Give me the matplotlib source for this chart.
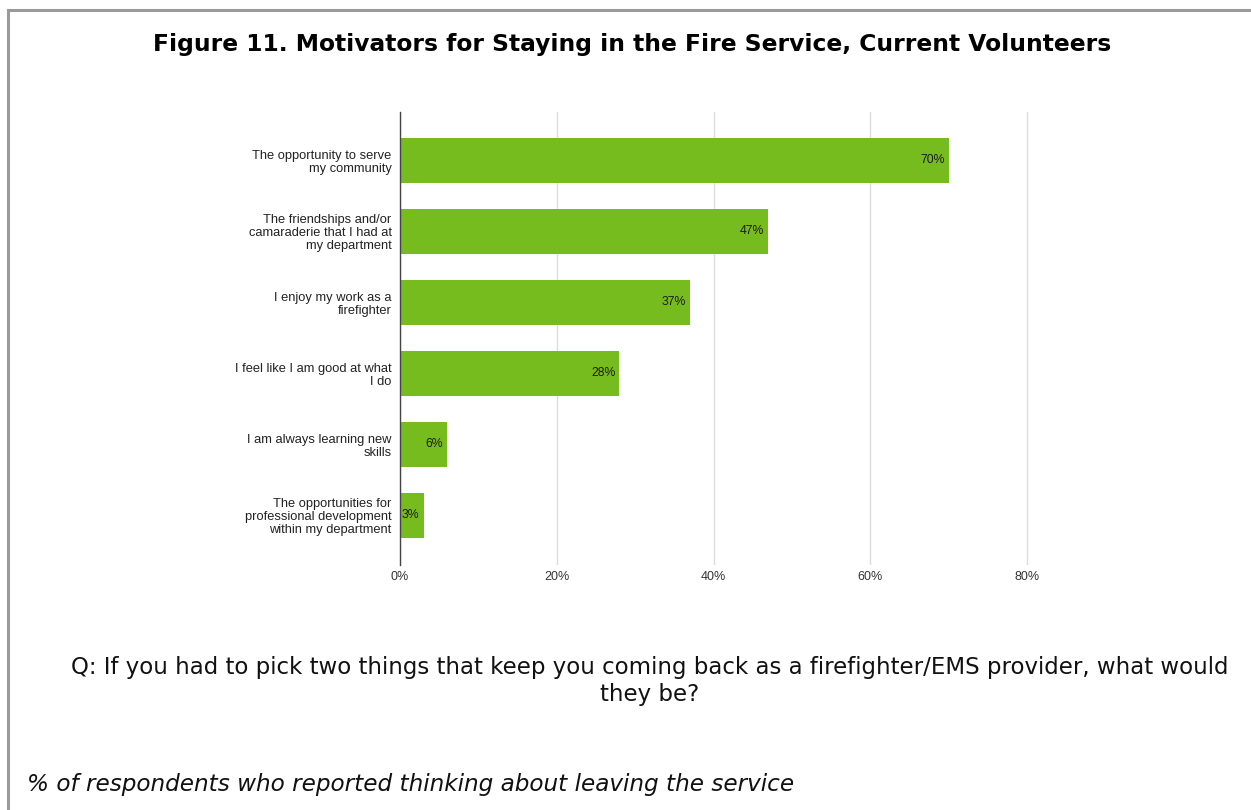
import matplotlib.pyplot as plt
import numpy as np

# motivators, top to bottom
reasons = [
    "The opportunity to serve\nmy community",
    "The friendships and/or\ncamaraderie that I had at\nmy department",
    "I enjoy my work as a\nfirefighter",
    "I feel like I am good at what\nI do",
    "I am always learning new\nskills",
    "The opportunities for\nprofessional development\nwithin my department",
]
pct = [70, 47, 37, 28, 6, 3]
xticks = [0, 20, 40, 60, 80]

green = "#77bc1f"

fig = plt.figure(figsize=(12.51, 8.10), dpi=100)
ax = fig.add_axes([400 / 1251, 1 - 565 / 810, 629.4 / 1251, 453 / 810])

ypos = np.arange(len(reasons))
ax.barh(ypos, pct, height=0.63, color=green, zorder=3)
ax.set_ylim(len(reasons) - 0.3, -0.68)
ax.set_xlim(0, 80.3)

for y, v in zip(ypos, pct):
    ax.text(v - 0.5, y, f"{v}%", ha="right", va="center", fontsize=8.8,
            family="Liberation Sans", color="#1a1a1a", zorder=4)

ax.set_yticks(ypos)
ax.set_yticklabels(reasons, fontsize=9.3, family="Liberation Sans",
                   color="#222222", linespacing=1.08)
ax.set_xticks(xticks)
ax.set_xticklabels([f"{t}%" for t in xticks], fontsize=9,
                   family="Liberation Sans", color="#333333")
ax.tick_params(axis="both", length=0)
ax.tick_params(axis="y", pad=6)
ax.tick_params(axis="x", pad=4.5)
ax.grid(axis="x", color="#dddddd", linewidth=1, zorder=0)
for s in ["top", "right", "bottom"]:
    ax.spines[s].set_visible(False)
ax.spines["left"].set_color("#444444")
ax.spines["left"].set_linewidth(1)
ax.spines["left"].set_zorder(5)

fig.text(632 / 1251, 1 - 45 / 810,
         "Figure 11. Motivators for Staying in the Fire Service, Current Volunteers",
         ha="center", va="center", fontsize=16.8, fontweight="bold",
         family="DejaVu Sans")
fig.text(650 / 1251, 1 - 681 / 810,
         "Q: If you had to pick two things that keep you coming back as a firefighter/EMS provider, what would\nthey be?",
         ha="center", va="center", fontsize=16.5, family="DejaVu Sans",
         linespacing=1.27, color="#111111")
fig.text(27 / 1251, 1 - 785 / 810,
         "% of respondents who reported thinking about leaving the service",
         ha="left", va="center", fontsize=16.7, style="italic",
         family="DejaVu Sans", color="#111111")

# frame lines on the left and top
fig.add_artist(plt.Line2D([8 / 1251, 8 / 1251], [0, 1 - 10 / 810],
                          color="#9a9a9a", linewidth=2.2))
fig.add_artist(plt.Line2D([8 / 1251, 1], [1 - 10 / 810, 1 - 10 / 810],
                          color="#9a9a9a", linewidth=2.2))

fig.savefig("out.png", dpi=100)
